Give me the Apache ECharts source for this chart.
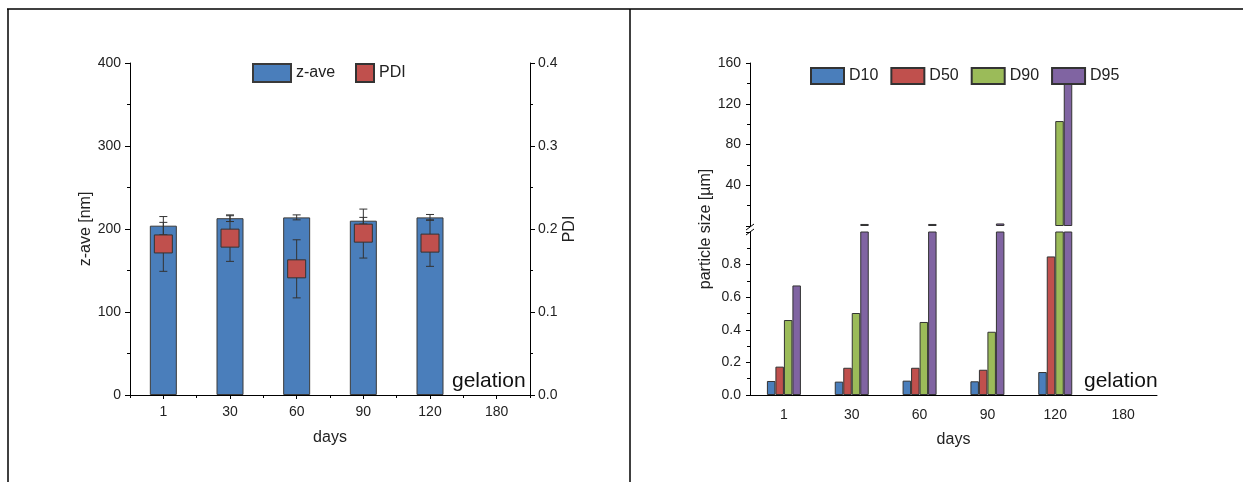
<!DOCTYPE html>
<html>
<head>
<meta charset="utf-8">
<script src="https://cdn.jsdelivr.net/npm/echarts@6/dist/echarts.min.js"></script>
<style>
html, body { margin: 0; padding: 0; background: #fff; }
#main { width: 1244px; height: 482px; }
</style>
</head>
<body>
<div id="main"></div>
<script>
// categories (days)
var days = ['1', '30', '60', '90', '120', '180'];

// left chart: z-average and PDI
var zave = [204, 213, 214, 210, 214, null];
var zaveErr = [11, 4, 3, 4, 3.5, null];
var pdi = [0.182, 0.189, 0.152, 0.195, 0.183, null];
var pdiLow = [0.149, 0.161, 0.117, 0.165, 0.155, null];
var pdiHigh = [0.208, 0.216, 0.187, 0.224, 0.211, null];

// right chart: particle size distribution (µm)
var d10 = [0.086, 0.082, 0.088, 0.084, 0.141, null];
var d50 = [0.174, 0.167, 0.167, 0.155, 0.85, null];
var d90 = [0.46, 0.503, 0.448, 0.388, 103, null];
var d95 = [0.672, 2, 2, 2.5, 144, null];

// broken axis: lower part 0..1, upper part 0..160
var lowMax = 1;

var FONT = 'Liberation Sans';
var INK = '#222';

var myChart = echarts.init(document.getElementById('main'));

function errBar(half) {
    return function (params, api) {
        var x = api.value(0);
        var lo = api.coord([x, api.value(1)]);
        var hi = api.coord([x, api.value(2)]);
        var st = { stroke: '#333', lineWidth: 1 };
        return {
            type: 'group',
            children: [
                { type: 'line', shape: { x1: lo[0], y1: lo[1], x2: hi[0], y2: hi[1] }, style: st },
                { type: 'line', shape: { x1: hi[0] - half, y1: hi[1], x2: hi[0] + half, y2: hi[1] }, style: st },
                { type: 'line', shape: { x1: lo[0] - half, y1: lo[1], x2: lo[0] + half, y2: lo[1] }, style: st }
            ]
        };
    };
}

var zaveErrData = [];
var pdiErrData = [];
for (var i = 0; i < days.length; i++) {
    if (zave[i] != null) zaveErrData.push([i, zave[i] - zaveErr[i], zave[i] + zaveErr[i]]);
    if (pdi[i] != null) pdiErrData.push([i, pdiLow[i], pdiHigh[i]]);
}

var sizeNames = ['D10', 'D50', 'D90', 'D95'];
var sizeData = [d10, d50, d90, d95];
var sizeColors = ['#4A7EBB', '#C0504D', '#9BBB59', '#8064A2'];

function upperPart(arr) {
    return arr.map(function (v) { return v != null && v > lowMax ? v : '-'; });
}

var axisLineStyle = { show: true, lineStyle: { color: '#000', width: 1 } };
var labelStyle = { color: INK, fontFamily: FONT, fontSize: 14 };
var nameStyle = { color: INK, fontFamily: FONT, fontSize: 16 };

var series = [
    {
        name: 'z-ave', type: 'bar', xAxisIndex: 0, yAxisIndex: 0,
        data: zave, barWidth: 27, z: 2,
        itemStyle: { color: '#4A7EBB', borderColor: '#3a3a3a', borderWidth: 1 }
    },
    {
        type: 'custom', xAxisIndex: 0, yAxisIndex: 0, z: 3,
        renderItem: errBar(4), data: zaveErrData,
        encode: { x: 0, y: [1, 2] }
    },
    {
        type: 'custom', xAxisIndex: 0, yAxisIndex: 1, z: 4,
        renderItem: errBar(4), data: pdiErrData,
        encode: { x: 0, y: [1, 2] }
    },
    {
        name: 'PDI', type: 'scatter', xAxisIndex: 0, yAxisIndex: 1, z: 5,
        data: pdi, symbol: 'rect', symbolSize: 18,
        itemStyle: { color: '#C0504D', borderColor: '#333', borderWidth: 1, opacity: 1 }
    }
];

for (var k = 0; k < sizeNames.length; k++) {
    var st = { color: sizeColors[k], borderColor: '#333', borderWidth: 1 };
    series.push({
        name: sizeNames[k], type: 'bar', xAxisIndex: 3, yAxisIndex: 3,
        data: sizeData[k], barWidth: 8.5, barGap: '0%', clip: true, itemStyle: st
    });
    series.push({
        name: sizeNames[k], type: 'bar', xAxisIndex: 2, yAxisIndex: 2,
        data: upperPart(sizeData[k]), barWidth: 8.5, barGap: '0%', clip: true, itemStyle: st
    });
}

var option = {
    animation: false,
    backgroundColor: '#fff',
    textStyle: { fontFamily: FONT },
    grid: [
        { left: 130, width: 400, top: 63, height: 332 },
        { left: 750, width: 407, top: 63, height: 163 },
        { left: 750, width: 407, top: 232, height: 163 }
    ],
    legend: [
        {
            data: ['z-ave'], left: 247, top: 58, itemWidth: 38, itemHeight: 18, icon: 'rect',
            textStyle: { color: INK, fontFamily: FONT, fontSize: 16 }
        },
        {
            data: ['PDI'], left: 350, top: 58, itemWidth: 18, itemHeight: 18, icon: 'rect',
            textStyle: { color: INK, fontFamily: FONT, fontSize: 16 }
        },
        {
            data: sizeNames, left: 805, top: 62, itemWidth: 33, itemHeight: 16, itemGap: 12, icon: 'rect',
            textStyle: { color: INK, fontFamily: FONT, fontSize: 16 }
        }
    ],
    xAxis: [
        {
            gridIndex: 0, type: 'category', data: days,
            axisLine: axisLineStyle,
            axisTick: { show: true, alignWithLabel: true, length: 4, lineStyle: { color: '#000' } },
            axisLabel: Object.assign({ margin: 10 }, labelStyle),
            name: 'days', nameLocation: 'middle', nameGap: 35, nameTextStyle: nameStyle
        },
        {
            gridIndex: 0, type: 'category', data: days, position: 'bottom',
            axisLine: { show: false },
            axisTick: { show: true, length: 3, lineStyle: { color: '#000' } },
            axisLabel: { show: false }
        },
        {
            gridIndex: 1, type: 'category', data: days, show: false
        },
        {
            gridIndex: 2, type: 'category', data: days,
            axisLine: axisLineStyle,
            axisTick: { show: false },
            axisLabel: Object.assign({ margin: 13 }, labelStyle),
            name: 'days', nameLocation: 'middle', nameGap: 37, nameTextStyle: nameStyle
        }
    ],
    yAxis: [
        {
            gridIndex: 0, type: 'value', min: 0, max: 400, interval: 100,
            axisLine: axisLineStyle,
            axisTick: { show: true, length: 5, lineStyle: { color: '#000' } },
            minorTick: { show: true, splitNumber: 2, length: 3, lineStyle: { color: '#000' } },
            splitLine: { show: false },
            axisLabel: Object.assign({ margin: 9 }, labelStyle),
            name: 'z-ave [nm]', nameLocation: 'middle', nameGap: 34, nameTextStyle: nameStyle
        },
        {
            gridIndex: 0, type: 'value', position: 'right', min: 0, max: 0.4, interval: 0.1,
            axisLine: axisLineStyle,
            axisTick: { show: true, length: 5, lineStyle: { color: '#000' } },
            minorTick: { show: true, splitNumber: 2, length: 3, lineStyle: { color: '#000' } },
            splitLine: { show: false },
            axisLabel: Object.assign({ margin: 8, formatter: function (v) { return v.toFixed(1); } }, labelStyle),
            name: 'PDI', nameLocation: 'middle', nameGap: 32, nameTextStyle: nameStyle
        },
        {
            gridIndex: 1, type: 'value', min: 0, max: 160, interval: 40,
            axisLine: axisLineStyle,
            axisTick: { show: true, length: 4, lineStyle: { color: '#000' } },
            minorTick: { show: true, splitNumber: 2, length: 3, lineStyle: { color: '#000' } },
            splitLine: { show: false },
            axisLabel: Object.assign({ margin: 9, formatter: function (v) { return v === 0 ? '' : String(v); } }, labelStyle)
        },
        {
            gridIndex: 2, type: 'value', min: 0, max: lowMax, interval: 0.2,
            axisLine: axisLineStyle,
            axisTick: { show: true, length: 4, lineStyle: { color: '#000' } },
            minorTick: { show: true, splitNumber: 2, length: 3, lineStyle: { color: '#000' } },
            splitLine: { show: false },
            axisLabel: Object.assign({ margin: 9, formatter: function (v) { return v >= lowMax ? '' : v.toFixed(1); } }, labelStyle)
        }
    ],
    graphic: [
        // table cell borders
        { type: 'line', shape: { x1: 7, y1: 9, x2: 1243, y2: 9 }, style: { stroke: '#000', lineWidth: 1.5 } },
        { type: 'line', shape: { x1: 8, y1: 9, x2: 8, y2: 482 }, style: { stroke: '#000', lineWidth: 1.5 } },
        { type: 'line', shape: { x1: 630, y1: 9, x2: 630, y2: 482 }, style: { stroke: '#000', lineWidth: 1.5 } },
        // axis break marks
        { type: 'line', shape: { x1: 746, y1: 230, x2: 754, y2: 224 }, style: { stroke: '#000', lineWidth: 1 } },
        { type: 'line', shape: { x1: 746, y1: 235, x2: 754, y2: 229 }, style: { stroke: '#000', lineWidth: 1 } },
        // labels
        {
            type: 'text', x: 706, y: 229, rotation: Math.PI / 2,
            style: { text: 'particle size [µm]', fill: INK, font: '16px "Liberation Sans"', align: 'center', verticalAlign: 'middle' }
        },
        {
            type: 'text', x: 452, y: 371,
            style: { text: 'gelation', fill: '#111', font: '21px "Liberation Sans"' }
        },
        {
            type: 'text', x: 1084, y: 371,
            style: { text: 'gelation', fill: '#111', font: '21px "Liberation Sans"' }
        }
    ],
    series: series
};
myChart.setOption(option);
</script>
</body>
</html>
